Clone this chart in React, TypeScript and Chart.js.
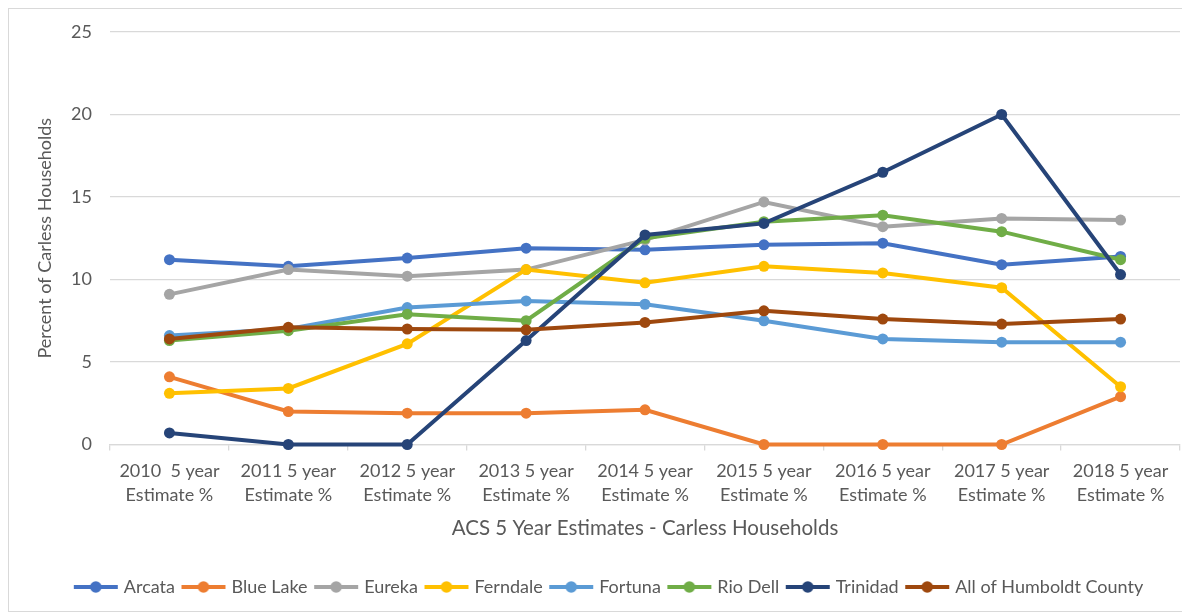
import React, { useEffect, useRef } from "react";
import { Chart, registerables } from "chart.js";

Chart.register(...registerables);

const categories: string[][] = [
  ["2010  5 year", "Estimate %"],
  ["2011 5 year", "Estimate %"],
  ["2012 5 year", "Estimate %"],
  ["2013 5 year", "Estimate %"],
  ["2014 5 year", "Estimate %"],
  ["2015 5 year", "Estimate %"],
  ["2016 5 year", "Estimate %"],
  ["2017 5 year", "Estimate %"],
  ["2018 5 year", "Estimate %"],
];

const arcata = [11.2, 10.8, 11.3, 11.9, 11.8, 12.1, 12.2, 10.9, 11.4];
const blueLake = [4.1, 2.0, 1.9, 1.9, 2.1, 0, 0, 0, 2.9];
const eureka = [9.1, 10.6, 10.2, 10.6, 12.4, 14.7, 13.2, 13.7, 13.6];
const ferndale = [3.1, 3.4, 6.1, 10.6, 9.8, 10.8, 10.4, 9.5, 3.5];
const fortuna = [6.6, 7.0, 8.3, 8.7, 8.5, 7.5, 6.4, 6.2, 6.2];
const rioDell = [6.3, 6.9, 7.9, 7.5, 12.5, 13.5, 13.9, 12.9, 11.2];
const trinidad = [0.7, 0, 0, 6.3, 12.7, 13.4, 16.5, 20.0, 10.3];
const humboldt = [6.4, 7.1, 7.0, 6.95, 7.4, 8.1, 7.6, 7.3, 7.6];

const seriesNames = ["Arcata", "Blue Lake", "Eureka", "Ferndale", "Fortuna", "Rio Dell", "Trinidad", "All of Humboldt County"];
const seriesValues = [arcata, blueLake, eureka, ferndale, fortuna, rioDell, trinidad, humboldt];
const seriesColors = ["#4472C4", "#ED7D31", "#A5A5A5", "#FFC000", "#5B9BD5", "#70AD47", "#264478", "#9E480E"];

const yTicks = [0, 5, 10, 15, 20, 25];

const FONT = "Lato";
const TEXT = "#595959";
const GRID = "#d9d9d9";

function legendIcon(color: string): HTMLCanvasElement {
  const c = document.createElement("canvas");
  c.width = 46;
  c.height = 14;
  const ctx = c.getContext("2d")!;
  ctx.strokeStyle = color;
  ctx.lineWidth = 4;
  ctx.beginPath();
  ctx.moveTo(1, 7);
  ctx.lineTo(45, 7);
  ctx.stroke();
  ctx.fillStyle = color;
  ctx.beginPath();
  ctx.arc(23, 7, 5.8, 0, Math.PI * 2);
  ctx.fill();
  return c;
}

export default function App() {
  const ref = useRef<HTMLCanvasElement>(null);
  useEffect(() => {
    if (!ref.current) return;
    const icons = seriesColors.map(legendIcon);
    const chart = new Chart(ref.current, {
      type: "line",
      data: {
        labels: categories,
        datasets: seriesNames.map((name, i) => ({
          label: name,
          data: seriesValues[i],
          borderColor: seriesColors[i],
          backgroundColor: seriesColors[i],
          pointBackgroundColor: seriesColors[i],
          pointBorderColor: seriesColors[i],
          borderWidth: 4,
          pointRadius: 5.5,
          pointBorderWidth: 0,
          tension: 0,
          clip: false as any,
          order: seriesNames.length - i,
        })),
      },
      options: {
        animation: false,
        responsive: false,
        maintainAspectRatio: false,
        layout: { padding: { left: 31, right: 7, top: 23, bottom: 5 } },
        plugins: {
          tooltip: { enabled: false },
          legend: {
            position: "bottom",
            labels: {
              usePointStyle: true,
              pointStyleWidth: 38,
              padding: 9.5,
              color: TEXT,
              font: { family: FONT, size: 18 },
              generateLabels: (ch: any) =>
                ch.data.datasets.map((d: any, i: number) => ({
                  text: d.label,
                  fillStyle: seriesColors[i],
                  strokeStyle: seriesColors[i],
                  lineWidth: 0,
                  pointStyle: icons[i],
                  hidden: false,
                  datasetIndex: i,
                  fontColor: TEXT,
                })),
            },
          },
        },
        scales: {
          x: {
            offset: true,
            grid: {
              display: true,
              offset: true,
              drawOnChartArea: false,
              drawTicks: true,
              tickLength: 6,
              color: GRID,
              lineWidth: 1.3,
            },
            border: { color: GRID, width: 1.3 },
            ticks: {
              color: TEXT,
              padding: 9,
              maxRotation: 0,
              autoSkip: false,
              font: { family: FONT, size: 18, lineHeight: 1.333 },
            },
            title: {
              display: true,
              text: "ACS 5 Year Estimates - Carless Households",
              color: TEXT,
              font: { family: FONT, size: 20.5, lineHeight: 1.2 },
              padding: { top: 0, bottom: 28 },
            },
            afterFit: (s: any) => {
              s.height = 124;
              s.paddingLeft = 0;
              s.paddingRight = 0;
            },
          },
          y: {
            min: 0,
            max: 25,
            afterBuildTicks: (s: any) => {
              s.ticks = yTicks.map((v) => ({ value: v }));
            },
            grid: { color: GRID, lineWidth: 1.3, drawTicks: false },
            border: { display: false },
            ticks: {
              color: TEXT,
              padding: 18,
              font: { family: FONT, size: 18 },
            },
            title: {
              display: true,
              text: "Percent of Carless Households",
              color: TEXT,
              font: { family: FONT, size: 18, lineHeight: 0.6 },
              padding: 0,
            },
            afterFit: (s: any) => {
              s.width = 70;
              s.paddingTop = 0;
              s.paddingBottom = 0;
            },
          },
        },
      },
    });
    return () => chart.destroy();
  }, []);
  return (
    <div style={{ width: 1178, height: 602, border: "1px solid #d9d9d9", background: "#fff" }}>
      <canvas ref={ref} width={1178} height={602} style={{ display: "block" }} />
    </div>
  );
}
